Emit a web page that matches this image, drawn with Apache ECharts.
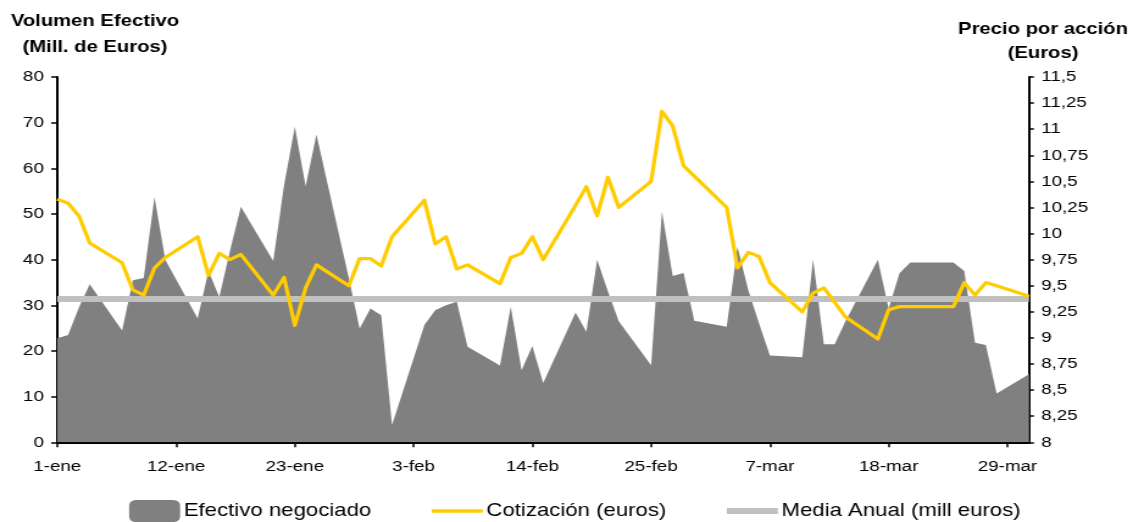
<!DOCTYPE html>
<html><head><meta charset="utf-8">
<script src="https://cdn.jsdelivr.net/npm/echarts@6/dist/echarts.min.js"></script>
<style>
html,body{margin:0;padding:0;background:#fff;overflow:hidden;}
#wrap{width:1133px;height:522px;overflow:hidden;}
#chart{width:929px;height:522px;transform:scaleX(1.2196);transform-origin:0 0;}
</style></head><body><div id="wrap"><div id="chart"></div></div>
<script>
// ---- data ----
const startDate = '2008-01-01';
const endDate = '2008-03-31';
const tradingDates = [
 '2008-01-01','2008-01-02','2008-01-03','2008-01-04',
 '2008-01-07','2008-01-08','2008-01-09','2008-01-10','2008-01-11',
 '2008-01-14','2008-01-15','2008-01-16','2008-01-17','2008-01-18',
 '2008-01-21','2008-01-22','2008-01-23','2008-01-24','2008-01-25',
 '2008-01-28','2008-01-29','2008-01-30','2008-01-31','2008-02-01',
 '2008-02-04','2008-02-05','2008-02-06','2008-02-07','2008-02-08',
 '2008-02-11','2008-02-12','2008-02-13','2008-02-14','2008-02-15',
 '2008-02-18','2008-02-19','2008-02-20','2008-02-21','2008-02-22',
 '2008-02-25','2008-02-26','2008-02-27','2008-02-28','2008-02-29',
 '2008-03-03','2008-03-04','2008-03-05','2008-03-06','2008-03-07',
 '2008-03-10','2008-03-11','2008-03-12','2008-03-13','2008-03-14',
 '2008-03-17','2008-03-18','2008-03-19','2008-03-20','2008-03-21',
 '2008-03-24','2008-03-25','2008-03-26','2008-03-27','2008-03-28',
 '2008-03-31'
];
const efectivoNegociado = [
 22.8, 23.5, 29.5, 34.6,
 24.5, 35.5, 36.0, 53.7, 40.0,
 27.1, 37.5, 31.8, 42.0, 51.6,
 39.7, 56.3, 69.1, 56.1, 67.4,
 36.0, 24.9, 29.3, 27.8, 3.8,
 25.7, 28.9, 30.0, 30.8, 20.9,
 16.8, 29.7, 15.8, 21.1, 13.0,
 28.4, 24.2, 40.0, 33.0, 26.5,
 16.9, 50.5, 36.4, 37.1, 26.6,
 25.3, 42.8, 33.3, 26.0, 19.0,
 18.6, 40.1, 21.5, 21.5, 26.5,
 40.0, 29.3, 37.0, 39.4, 39.4,
 39.4, 37.5, 21.8, 21.3, 10.7,
 14.9
];
const cotizacion = [
 10.33, 10.29, 10.17, 9.91,
 9.72, 9.46, 9.41, 9.67, 9.77,
 9.97, 9.60, 9.81, 9.75, 9.80,
 9.41, 9.58, 9.12, 9.48, 9.70,
 9.50, 9.76, 9.76, 9.69, 9.97,
 10.32, 9.90, 9.97, 9.66, 9.70,
 9.52, 9.77, 9.81, 9.97, 9.75,
 10.27, 10.45, 10.17, 10.54, 10.25,
 10.50, 11.17, 11.03, 10.65, 10.55,
 10.25, 9.67, 9.82, 9.78, 9.53,
 9.25, 9.43, 9.48, 9.34, 9.20,
 8.99, 9.27, 9.30, 9.30, 9.30,
 9.30, 9.53, 9.41, 9.53, 9.50,
 9.40
];
const mediaAnual = 31.4;
const tickLabels = ['1-ene','12-ene','23-ene','3-feb','14-feb','25-feb','7-mar','18-mar','29-mar'];
const seriesNames = ['Efectivo negociado','Cotización (euros)','Media Anual (mill euros)'];

// ---- helpers ----
function dayIndex(s){
  const p = s.split('-').map(Number);
  const b = startDate.split('-').map(Number);
  return Math.round((Date.UTC(p[0],p[1]-1,p[2]) - Date.UTC(b[0],b[1]-1,b[2]))/86400000);
}
const xMax = dayIndex(endDate);
const volData = tradingDates.map((d,i)=>[dayIndex(d), efectivoNegociado[i]]);
const priceData = tradingDates.map((d,i)=>[dayIndex(d), cotizacion[i]]);
const mediaData = [[0, mediaAnual],[xMax, mediaAnual]];

const S = 1133/929; // horizontal stretch of the reference
const FONT = 'Liberation Sans, Arial, sans-serif';
const px = v => v / S;

const chart = echarts.init(document.getElementById('chart'), null, {renderer:'canvas'});
chart.setOption({
  animation:false,
  backgroundColor:'#ffffff',
  textStyle:{fontFamily:FONT, color:'#000'},
  graphic:[
    {type:'text', x:px(95), y:8, style:{text:'Volumen Efectivo\n(Mill. de Euros)', align:'center', verticalAlign:'top',
      fontSize:16.6, fontWeight:'bold', fontFamily:FONT, lineHeight:26, fill:'#000'}},
    {type:'text', x:px(1043), y:17, style:{text:'Precio por acción\n(Euros)', align:'center', verticalAlign:'top',
      fontSize:16.6, fontWeight:'bold', fontFamily:FONT, lineHeight:24, fill:'#000'}}
  ],
  legend:{
    left:px(123), top:495, itemWidth:px(51), itemHeight:22, itemGap:px(60.5),
    symbolKeepAspect:true,
    textStyle:{fontSize:18.2, fontFamily:FONT, color:'#000', padding:[0,0,0,-2]},
    data:[
      {name:seriesNames[0], icon:'roundRect', itemStyle:{color:'#808080'}},
      {name:seriesNames[1], icon:'path://M0,0H42V3.5H0Z', itemStyle:{color:'#FFCC00'}},
      {name:seriesNames[2], icon:'path://M0,0H42V6H0Z', itemStyle:{color:'#C0C0C0'}}
    ]
  },
  grid:{left:px(57.3), right:929 - px(1029), top:77, bottom:522-442.3, containLabel:false},
  xAxis:{
    type:'value', min:0, max:xMax, interval:11,
    axisLine:{show:true, lineStyle:{color:'#000', width:2}},
    axisTick:{show:true, length:5, lineStyle:{color:'#000', width:1.5}},
    splitLine:{show:false},
    axisLabel:{margin:17, fontSize:15.4, fontFamily:FONT, color:'#000', showMaxLabel:false,
      formatter:v => (v % 11 === 0 && tickLabels[v/11] !== undefined) ? tickLabels[v/11] : ''}
  },
  yAxis:[
    {type:'value', min:0, max:80, interval:10, position:'left',
      axisLine:{show:true, lineStyle:{color:'#000', width:2}},
      axisTick:{show:true, length:5, lineStyle:{color:'#000', width:1.5}},
      splitLine:{show:false},
      axisLabel:{margin:11, fontSize:15.4, fontFamily:FONT, color:'#000'}},
    {type:'value', min:8, max:11.5, interval:0.25, position:'right',
      axisLine:{show:true, lineStyle:{color:'#000', width:2}},
      axisTick:{show:true, length:4, lineStyle:{color:'#000', width:1.5}},
      splitLine:{show:false},
      axisLabel:{margin:10, fontSize:15.4, fontFamily:FONT, color:'#000',
        formatter:v => String(Math.round(v*100)/100).replace('.', ',')}}
  ],
  series:[
    {name:seriesNames[0], type:'line', yAxisIndex:0, data:volData, showSymbol:false, symbol:'none',
      lineStyle:{width:0, color:'#808080'}, itemStyle:{color:'#808080'},
      areaStyle:{color:'#808080', opacity:1}, z:1},
    {name:seriesNames[2], type:'line', yAxisIndex:0, data:mediaData, showSymbol:false, symbol:'none',
      lineStyle:{width:6, color:'#C0C0C0'}, itemStyle:{color:'#C0C0C0'}, z:2},
    {name:seriesNames[1], type:'line', yAxisIndex:1, data:priceData, showSymbol:false, symbol:'none',
      lineStyle:{width:3.2, color:'#FFCC00', join:'round'}, itemStyle:{color:'#FFCC00'}, z:3}
  ]
});
</script></body></html>
